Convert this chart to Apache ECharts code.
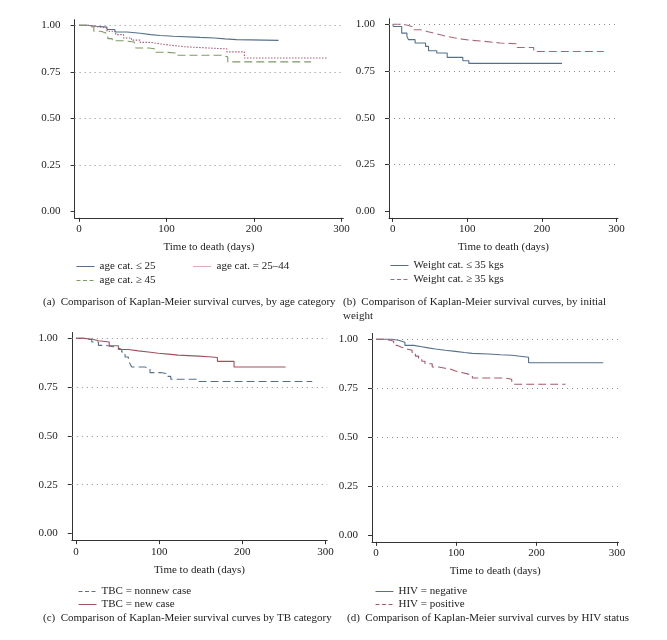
<!DOCTYPE html>
<html>
  <head>
    <meta charset="UTF-8" />
    <title>Kaplan-Meier survival curves</title>
    <script src="https://cdn.jsdelivr.net/npm/echarts@6.0.0/dist/echarts.min.js"></script>
    <style>
      body { margin: 0; background: #fff; }
    </style>
  </head>
  <body>
    <div id="main" style="width: 667px; height: 640px"></div>
  </body>
  <script>
    // [time in days, survival] - survival holds until the next point
    const ageLe25 = [[0,1],[10,0.995],[20,0.99],[32,0.977],[41,0.964],[55,0.957],[70,0.95],[82,0.945],[93,0.941],[108,0.935],[138,0.932],[155,0.927],[167,0.923],[180,0.919],[228,0.919]];
    const age2544 = [[0,1],[10,0.993],[20,0.985],[32,0.968],[42,0.95],[51,0.932],[60,0.92],[70,0.908],[82,0.9],[93,0.892],[106,0.885],[120,0.878],[147,0.873],[169,0.857],[189,0.824],[284,0.824]];
    const ageGe45 = [[0,1],[8,0.99],[17,0.968],[25,0.96],[30,0.95],[33,0.928],[38,0.917],[50,0.91],[63,0.905],[65,0.878],[80,0.874],[86,0.855],[100,0.85],[112,0.839],[162,0.83],[170,0.803],[265,0.803]];

    const weightLe35 = [[0,1],[1,0.988],[12,0.953],[19,0.936],[21,0.918],[30,0.9],[44,0.882],[48,0.859],[59,0.847],[73,0.823],[94,0.805],[102,0.791],[227,0.791]];
    const weightGe35 = [[0,1],[12,0.995],[20,0.985],[28,0.971],[37,0.962],[46,0.953],[55,0.944],[64,0.936],[72,0.928],[82,0.921],[93,0.915],[104,0.909],[122,0.9],[144,0.896],[167,0.876],[189,0.855],[283,0.855]];

    const tbNonnew = [[0,1],[10,0.993],[19,0.981],[27,0.964],[35,0.957],[45,0.95],[51,0.943],[55,0.93],[59,0.904],[63,0.887],[65,0.87],[67,0.853],[83,0.844],[89,0.824],[103,0.819],[110,0.805],[114,0.79],[148,0.779],[284,0.779]];
    const tbNew = [[0,1],[10,0.995],[20,0.988],[27,0.981],[40,0.962],[51,0.943],[63,0.936],[75,0.93],[87,0.924],[99,0.919],[111,0.914],[123,0.909],[147,0.906],[160,0.902],[170,0.882],[190,0.853],[252,0.853]];

    const hivNeg = [[0,1],[20,0.995],[28,0.985],[36,0.969],[47,0.962],[57,0.956],[65,0.95],[74,0.944],[86,0.938],[99,0.932],[110,0.928],[120,0.925],[140,0.921],[155,0.918],[169,0.908],[190,0.88],[283,0.88]];
    const hivPos = [[0,1],[10,0.995],[18,0.99],[22,0.969],[26,0.961],[31,0.952],[37,0.944],[45,0.927],[49,0.914],[53,0.901],[57,0.888],[61,0.875],[70,0.858],[78,0.852],[86,0.847],[93,0.838],[99,0.829],[108,0.822],[115,0.816],[120,0.802],[161,0.796],[169,0.782],[171,0.77],[236,0.77]];

    const xTicks = [0, 100, 200, 300];
    const yTicks = [0, 0.25, 0.5, 0.75, 1];
    const gridValues = [0.25, 0.5, 0.75, 1];

    const FONT = "Liberation Serif";
    const BLUE = "#56708c";
    const textColor = "#222";

    const grids = [
      { left: 74.6, top: 19.7, width: 268.7, height: 198.1 },
      { left: 389, top: 18.7, width: 229, height: 199.2 },
      { left: 71.8, top: 332.5, width: 255.4, height: 207.7 },
      { left: 372, top: 333.4, width: 246.5, height: 208.4 },
    ];

    const curves = [
      { name: "age cat. \u2264 25", grid: 0, data: ageLe25, color: BLUE, type: "solid" },
      { name: "age cat. = 25\u201344", grid: 0, data: age2544, color: "#b3597a", type: [1.5, 1.5] },
      { name: "age cat. \u2265 45", grid: 0, data: ageGe45, color: "#7d9a63", type: [8, 4] },
      { name: "Weight cat. \u2264 35 kgs", grid: 1, data: weightLe35, color: BLUE, type: "solid" },
      { name: "Weight cat. \u2265 35 kgs", grid: 1, data: weightGe35, color: "#ad6575", type: [8, 4] },
      { name: "TBC = nonnew case", grid: 2, data: tbNonnew, color: BLUE, type: [8, 4] },
      { name: "TBC = new case", grid: 2, data: tbNew, color: "#a3505e", type: "solid" },
      { name: "HIV = negative", grid: 3, data: hivNeg, color: BLUE, type: "solid" },
      { name: "HIV = positive", grid: 3, data: hivPos, color: "#a85a6a", type: [8, 4] },
    ];

    // legend entries: series name, left, vertical centre, icon dash
    const legendPos = [
      ["age cat. \u2264 25", 76, 268, "solid"],
      ["age cat. = 25\u201344", 193, 268, [1, 1]],
      ["age cat. \u2265 45", 76, 282, [4, 2.5]],
      ["Weight cat. \u2264 35 kgs", 390, 267, "solid"],
      ["Weight cat. \u2265 35 kgs", 390, 281, [4, 2.5]],
      ["TBC = nonnew case", 78, 593, [4, 2.5]],
      ["TBC = new case", 78, 606, "solid"],
      ["HIV = negative", 375, 593, "solid"],
      ["HIV = positive", 375, 606, [4, 2.5]],
    ];

    const captions = [
      { text: "(a)  Comparison of Kaplan-Meier survival curves, by age category", left: 43, top: 295.5 },
      { text: "(b)  Comparison of Kaplan-Meier survival curves, by initial\nweight", left: 343, top: 295.5 },
      { text: "(c)  Comparison of Kaplan-Meier survival curves by TB category", left: 43, top: 611.5 },
      { text: "(d)  Comparison of Kaplan-Meier survival curves by HIV status", left: 347, top: 611.5 },
    ];

    let myChart = echarts.init(document.getElementById("main"));

    const xAxes = grids.map((g, i) => ({
      type: "value",
      gridIndex: i,
      min: -5,
      max: 302,
      name: "Time to death (days)",
      nameLocation: "middle",
      nameGap: 24,
      nameTextStyle: { fontFamily: FONT, fontSize: 11, color: textColor },
      axisLine: { show: true, onZero: false, lineStyle: { color: "#333", width: 1 } },
      axisTick: { show: true, customValues: xTicks, length: 4, lineStyle: { color: "#333" } },
      axisLabel: { customValues: xTicks, margin: 6, fontFamily: FONT, fontSize: 11, color: textColor },
      splitLine: { show: false },
    }));

    const yAxes = grids.map((g, i) => ({
      type: "value",
      gridIndex: i,
      min: -0.035,
      max: 1.03,
      axisLine: { show: true, onZero: false, lineStyle: { color: "#333", width: 1 } },
      axisTick: { show: true, customValues: yTicks, length: 4, lineStyle: { color: "#333" } },
      axisLabel: {
        customValues: yTicks,
        margin: 14,
        fontFamily: FONT,
        fontSize: 11,
        color: textColor,
        formatter: (v) => v.toFixed(2),
      },
      splitLine: { show: false },
    }));

    // dotted reference lines, one empty series per panel
    const gridSeries = grids.map((g, i) => ({
      type: "line",
      xAxisIndex: i,
      yAxisIndex: i,
      data: [],
      z: 1,
      markLine: {
        silent: true,
        symbol: "none",
        label: { show: false },
        lineStyle: { type: [1, 4], color: "#8a8a8a", width: 1 },
        data: gridValues.map((v) => ({ yAxis: v })),
      },
    }));

    const curveSeries = curves.map((c) => ({
      name: c.name,
      type: "line",
      xAxisIndex: c.grid,
      yAxisIndex: c.grid,
      step: "end",
      symbol: "none",
      z: 3,
      data: c.data,
      color: c.color,
      lineStyle: { color: c.color, width: 1.1, type: c.type },
    }));

    myChart.setOption({
      animation: false,
      grid: grids,
      xAxis: xAxes,
      yAxis: yAxes,
      legend: legendPos.map(([name, left, cy, dash]) => ({
        data: [name],
        left: left,
        top: cy - 7,
        padding: 0,
        itemWidth: 18,
        itemHeight: 10,
        selectedMode: false,
        itemStyle: { opacity: 0 },
        lineStyle: { width: 1, type: dash },
        textStyle: { fontFamily: FONT, fontSize: 11, color: textColor },
      })),
      graphic: captions.map((c) => ({
        type: "text",
        left: c.left,
        top: c.top,
        style: { text: c.text, font: "11px '" + FONT + "'", fill: textColor, lineHeight: 14 },
      })),
      series: gridSeries.concat(curveSeries),
    });
  </script>
</html>
